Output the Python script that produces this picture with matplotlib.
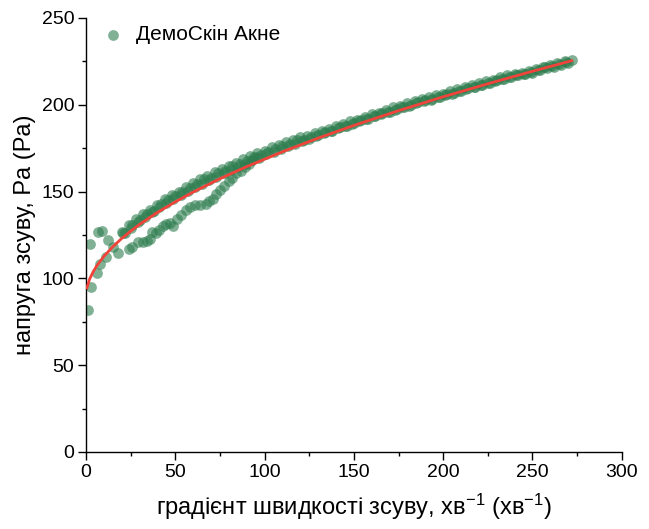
import matplotlib
matplotlib.use("Agg")
import matplotlib.pyplot as plt
from matplotlib import font_manager as fm
from matplotlib.ticker import MultipleLocator

names = {f.name for f in fm.fontManager.ttflist}
fam = ['Liberation Sans Narrow'] if 'Liberation Sans Narrow' in names else ['Liberation Sans']
plt.rcParams['font.family'] = fam + ['DejaVu Sans']
plt.rcParams['mathtext.default'] = 'regular'

# ---- data ----
series_label = "ДемоСкін Акне"

low_x = [1, 2, 3, 6, 7, 9, 8, 11, 12.5, 15, 18, 24, 26, 29, 32, 34, 36, 37, 39, 41, 43,
         45, 47, 49, 51, 53, 56, 58, 61, 64, 67, 69, 71, 73, 75, 77, 80, 82, 84, 87, 89,
         91, 93, 96]
low_y = [82, 120, 95, 103, 127, 127.5, 108, 112.5, 122, 118, 114.5, 117, 118, 121, 121,
         121.5, 122.5, 127, 126, 128, 130, 131.5, 132, 130, 134, 136.5, 139.5, 141, 142,
         142.5, 143, 144.5, 146, 148.5, 151, 153.5, 156, 158, 160.5, 162, 164, 166, 168,
         170]

up_x = [20, 24, 28, 32, 36, 40, 44, 48, 52, 56, 60, 64, 68, 72, 76, 80, 84, 88, 92, 96,
        100, 104, 108, 112, 116, 120, 124, 128, 132, 136, 140, 144, 148, 152, 156, 160,
        164, 168, 172, 176, 180, 184, 188, 192, 196, 200, 204, 208, 212, 216, 220, 224,
        228, 232, 236, 240, 244, 248, 252, 256, 260, 264, 268, 272]
up_y = [127, 130.5, 134, 137, 139.5, 142.5, 145.5, 148, 150, 152.5, 155, 157, 159, 161,
        163, 165, 166.5, 168.5, 170.5, 172, 173.5, 175.5, 177, 178.5, 180, 181.5, 182,
        183.5, 185, 186, 187.5, 189, 190.5, 191.5, 193, 194.5, 195.5, 197, 198.5, 199.5,
        201, 202, 203.5, 204.5, 205.5, 206.5, 208, 209, 210, 211.5, 212.5, 213.5, 214.5,
        216, 217, 218, 218.5, 219.5, 220.5, 222, 223, 224, 225, 226]

up2_x = [22, 26, 30, 34, 38, 42, 46, 50, 54, 58, 62, 66, 70, 74, 78, 82, 86, 90, 94, 98,
         102, 106, 110, 114, 118, 122, 126, 130, 134, 138, 142, 146, 150, 154, 158, 162,
         166, 170, 174, 178, 182, 186, 190, 194, 198, 202, 206, 210, 214, 218, 222, 226,
         230, 234, 238, 242, 246, 250, 254, 258, 262, 266, 270]
up2_y = [126, 131, 133.5, 137, 139, 143, 145, 147.5, 150, 152, 154.5, 157, 158, 160.5,
         162, 164.5, 166, 167.5, 170, 171, 173, 174.5, 176.5, 177.5, 179.5, 180, 181.5,
         182.5, 184.5, 185, 187, 188, 189.5, 191, 192, 193.5, 195, 196, 197.5, 199, 200,
         201.5, 202.5, 203.5, 204.5, 206, 207, 208, 209.5, 210.5, 211.5, 212.5, 214,
         215, 216, 217, 217.5, 218.5, 220, 221, 222, 223, 224]

up3_x = [21, 25, 29, 33, 37, 41, 45, 49, 53, 57, 61, 65, 69, 73, 77, 81, 85, 89, 93, 97,
         101, 105, 109, 113, 117, 121, 125, 129, 133, 137, 141, 145, 149, 153, 157, 161,
         165, 169, 173, 177, 181, 185, 189, 193, 197, 201, 205, 209, 213, 217, 221, 225,
         229, 233, 237, 241, 245, 249, 253, 257, 261, 265, 269]
up3_y = [126, 129, 132.5, 135.5, 138, 141, 143.5, 146, 148, 150.5, 152.5, 154.5, 156.5,
         158.5, 160.5, 162.5, 164, 166, 168, 169.5, 171.5, 173, 174.5, 176, 177.5, 179,
         180.5, 182, 183.5, 185, 186.5, 188, 189, 190.5, 192, 193.5, 194.5, 196, 197,
         198.5, 199.5, 201, 202, 203, 204.5, 205.5, 206.5, 208, 209, 210.5, 211.5, 212.5,
         213.5, 215, 216, 217, 218, 219, 220, 221.5, 222.5, 223.5, 224.5]

fit_x = [0.5, 2, 4, 6, 10, 15, 20, 25, 30, 40, 50, 60, 75, 90, 110, 130, 150, 175,
         200, 225, 250, 272]
fit_y = [94.5, 99.5, 103.8, 107.2, 112.7, 118.2, 123.0, 127.2, 131.1, 138.0, 144.1,
         149.7, 157.4, 164.4, 172.9, 180.8, 188.1, 196.6, 204.6, 212.1, 219.3, 225.4]

x_ticks = [0, 50, 100, 150, 200, 250, 300]
y_ticks = [0, 50, 100, 150, 200, 250]

# ---- plot ----
fig = plt.figure(figsize=(6.49, 5.29), dpi=100)
ax = fig.add_axes([0.1325, 0.1456, 0.8255, 0.8204])

pt_color = '#2e7d4f'
ax.scatter(low_x + up_x + up2_x + up3_x, low_y + up_y + up2_y + up3_y, s=60,
           color=pt_color, alpha=0.6, linewidths=0, label=series_label, zorder=2)
ax.plot(fit_x, fit_y, color='#f0433a', lw=2.0, zorder=3)

ax.set_xlim(0, 300)
ax.set_ylim(0, 250)
ax.set_xticks(x_ticks)
ax.set_yticks(y_ticks)
ax.xaxis.set_minor_locator(MultipleLocator(25))
ax.yaxis.set_minor_locator(MultipleLocator(25))
ax.tick_params(which='major', direction='out', length=6, width=1.0, labelsize=14,
               colors='black', pad=2.5)
ax.tick_params(which='minor', direction='out', length=3, width=1.0)
for s in ['top', 'right']:
    ax.spines[s].set_visible(False)
for s in ['left', 'bottom']:
    ax.spines[s].set_linewidth(1.0)

ax.set_xlabel('градієнт швидкості зсуву, хв$^{-1}$ (хв$^{-1}$)', fontsize=17, labelpad=8)
ax.set_ylabel('напруга зсуву, Pa (Pa)', fontsize=17, labelpad=4)

ax.legend(loc='upper left', frameon=False, fontsize=15, handlelength=1.0,
          handletextpad=0.6, borderaxespad=0.0, bbox_to_anchor=(0.015, 1.003))

fig.savefig('out.png', dpi=100)
